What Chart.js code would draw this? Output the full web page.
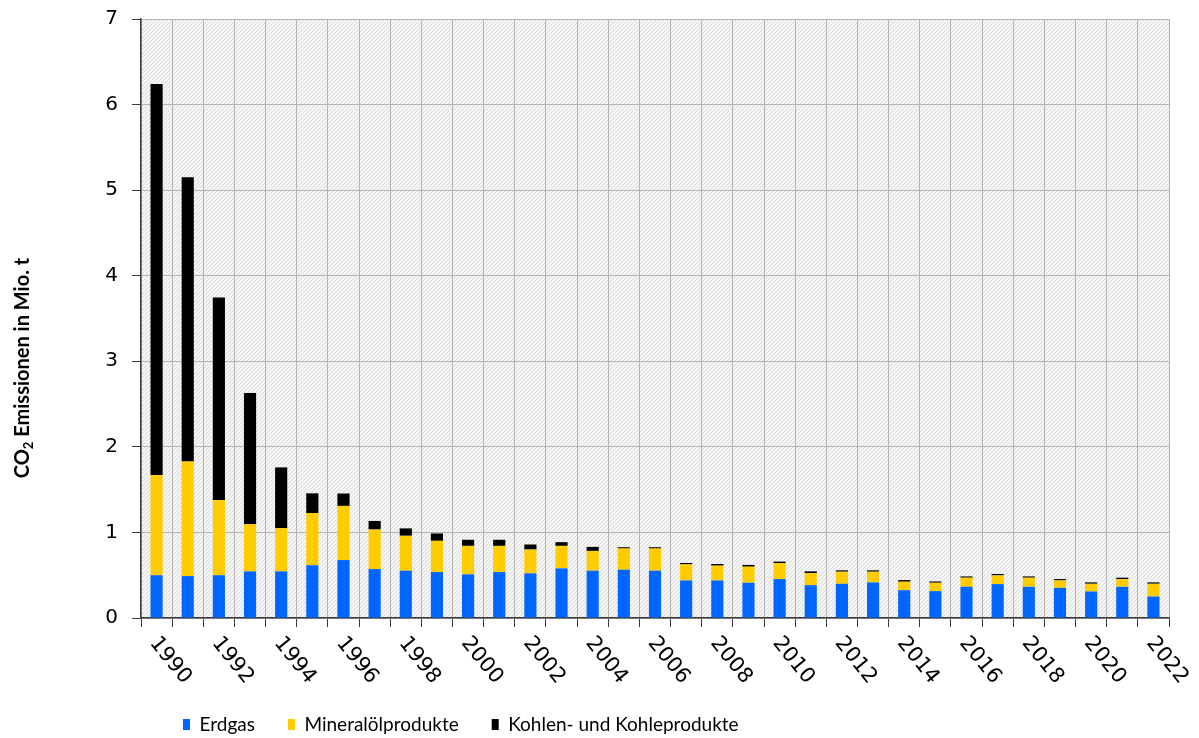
<!DOCTYPE html>
<html>
<head>
<meta charset="utf-8">
<script src="https://cdn.jsdelivr.net/npm/chart.js@4/dist/chart.umd.min.js"></script>
<style>
html,body{margin:0;padding:0;background:#ffffff;}
canvas{display:block;}
</style>
</head>
<body>
<canvas id="c" width="1199" height="738"></canvas>
<script>
// ---- data ----
const years = [1990,1991,1992,1993,1994,1995,1996,1997,1998,1999,2000,2001,2002,2003,2004,2005,2006,2007,2008,2009,2010,2011,2012,2013,2014,2015,2016,2017,2018,2019,2020,2021,2022];
const yearLabels = years.map(y => (y % 2 === 0 ? String(y) : ''));
const erdgas = [0.50,0.49,0.50,0.545,0.545,0.617,0.677,0.572,0.553,0.537,0.51,0.537,0.522,0.58,0.553,0.565,0.553,0.439,0.439,0.412,0.455,0.384,0.40,0.416,0.325,0.314,0.365,0.396,0.365,0.353,0.31,0.365,0.251];
const mineraloel = [1.17,1.34,0.88,0.55,0.505,0.61,0.633,0.462,0.408,0.365,0.333,0.306,0.278,0.263,0.231,0.247,0.259,0.188,0.173,0.188,0.188,0.141,0.141,0.125,0.099,0.098,0.106,0.102,0.106,0.086,0.09,0.09,0.149];
const kohle = [4.57,3.32,2.365,1.535,0.71,0.23,0.145,0.10,0.086,0.086,0.071,0.071,0.059,0.043,0.047,0.015,0.015,0.016,0.019,0.02,0.016,0.02,0.016,0.016,0.019,0.015,0.015,0.016,0.015,0.016,0.016,0.016,0.016];
const seriesNames = ['Erdgas', 'Mineralölprodukte', 'Kohlen- und Kohleprodukte'];
const yTitleMain = 'CO';
const yTitleSub = '2';
const yTitleRest = ' Emissionen in Mio. t';
const yMin = 0, yMax = 7, yStep = 1;

// ---- styling ----
const COLORS = ['#0066ff', '#ffcc00', '#000000'];
const GRID = '#b4b4b4';
const AXIS = '#3c3c3c';
const TICKFONT = '"DejaVu Sans", Verdana, sans-serif';
const LEGENDFONT = 'Lato, "Open Sans", sans-serif';

function makePattern(ctx) {
  const c = document.createElement('canvas');
  c.width = 4; c.height = 4;
  const p = c.getContext('2d');
  p.fillStyle = '#f4f4f4';
  p.fillRect(0, 0, 4, 4);
  p.strokeStyle = '#dcdcdc';
  p.lineWidth = 1;
  p.beginPath();
  p.moveTo(0, 4); p.lineTo(4, 0);
  p.moveTo(-1, 1); p.lineTo(1, -1);
  p.moveTo(3, 5); p.lineTo(5, 3);
  p.stroke();
  return ctx.createPattern(c, 'repeat');
}

const bgPlugin = {
  id: 'hatchBg',
  beforeDraw(chart) {
    const {ctx, chartArea: a} = chart;
    ctx.save();
    ctx.fillStyle = makePattern(ctx);
    ctx.fillRect(a.left, a.top, a.right - a.left, a.bottom - a.top);
    ctx.restore();
  }
};

const layoutPlugin = {
  id: 'legendPlace',
  afterLayout(chart) {
    const lg = chart.legend;
    if (!lg) return;
    const pad = lg.options.labels.padding;
    const w = lg.right - lg.left;
    lg.left = 183 - pad;
    lg.right = lg.left + w;
    const ih = lg._itemHeight || 20;
    lg.top = 725 - pad - ih / 2;
    lg.bottom = lg.top + lg.height;
  }
};

const labelsPlugin = {
  id: 'xLabelsAndTitle',
  afterDraw(chart) {
    const ctx = chart.ctx;
    const xs = chart.scales.x;
    ctx.save();
    ctx.font = '21px ' + TICKFONT;
    ctx.fillStyle = '#000';
    ctx.textAlign = 'left';
    ctx.textBaseline = 'top';
    yearLabels.forEach((lab, i) => {
      if (!lab) return;
      const x = xs.getPixelForValue(i);
      ctx.save();
      ctx.translate(x + 5, xs.top + 15);
      ctx.rotate(51 * Math.PI / 180);
      ctx.fillText(lab, 0, 0);
      ctx.restore();
    });
    ctx.restore();

    // y axis title with subscript
    ctx.save();
    ctx.translate(23, 368);
    ctx.rotate(-Math.PI / 2);
    ctx.fillStyle = '#000';
    ctx.textBaseline = 'middle';
    ctx.textAlign = 'left';
    const fMain = 'bold 20px ' + LEGENDFONT;
    const fSub = 'bold 13px ' + LEGENDFONT;
    ctx.font = fMain;
    const w1 = ctx.measureText(yTitleMain).width;
    const w3 = ctx.measureText(yTitleRest).width;
    ctx.font = fSub;
    const w2 = ctx.measureText(yTitleSub).width;
    let x0 = -(w1 + w2 + w3) / 2;
    ctx.font = fMain;
    ctx.fillText(yTitleMain, x0, 0);
    ctx.font = fSub;
    ctx.fillText(yTitleSub, x0 + w1, 6);
    ctx.font = fMain;
    ctx.fillText(yTitleRest, x0 + w1 + w2, 0);
    ctx.restore();
  }
};

const ctx = document.getElementById('c').getContext('2d');
new Chart(ctx, {
  type: 'bar',
  data: {
    labels: years.map(String),
    datasets: [
      {label: seriesNames[0], data: erdgas, backgroundColor: COLORS[0], borderWidth: 0},
      {label: seriesNames[1], data: mineraloel, backgroundColor: COLORS[1], borderWidth: 0},
      {label: seriesNames[2], data: kohle, backgroundColor: COLORS[2], borderWidth: 0}
    ]
  },
  options: {
    responsive: false,
    devicePixelRatio: 1,
    animation: false,
    layout: {padding: {left: 0, right: 30, top: 19, bottom: 0}},
    datasets: {bar: {barPercentage: 0.39, categoryPercentage: 1.0}},
    plugins: {
      tooltip: {enabled: false},
      legend: {
        display: true,
        position: 'bottom',
        align: 'start',
        labels: {
          boxWidth: 7,
          boxHeight: 11,
          padding: 33,
          color: '#000',
          font: {family: LEGENDFONT, size: 19}
        }
      }
    },
    scales: {
      x: {
        stacked: true,
        grid: {offset: true, color: GRID, lineWidth: 1, drawTicks: true, tickLength: 9, tickColor: AXIS, tickWidth: 1},
        border: {color: AXIS, width: 1.5},
        ticks: {display: false, autoSkip: false},
        afterFit(scale) {
          const lh = scale.chart.legend ? scale.chart.legend.height : 0;
          scale.height = 738 - lh - 618;
          scale.paddingLeft = 0;
          scale.paddingRight = 0;
        }
      },
      y: {
        stacked: true,
        min: yMin,
        max: yMax,
        grid: {color: GRID, lineWidth: 1, drawTicks: true, tickLength: 9, tickColor: AXIS, tickWidth: 1},
        border: {color: AXIS, width: 1.5},
        ticks: {stepSize: yStep, color: '#000', padding: 14, font: {family: TICKFONT, size: 20}},
        afterFit(scale) {
          scale.width = 141;
          scale.paddingTop = 0;
          scale.paddingBottom = 0;
        }
      }
    }
  },
  plugins: [bgPlugin, layoutPlugin, labelsPlugin]
});
</script>
</body>
</html>
